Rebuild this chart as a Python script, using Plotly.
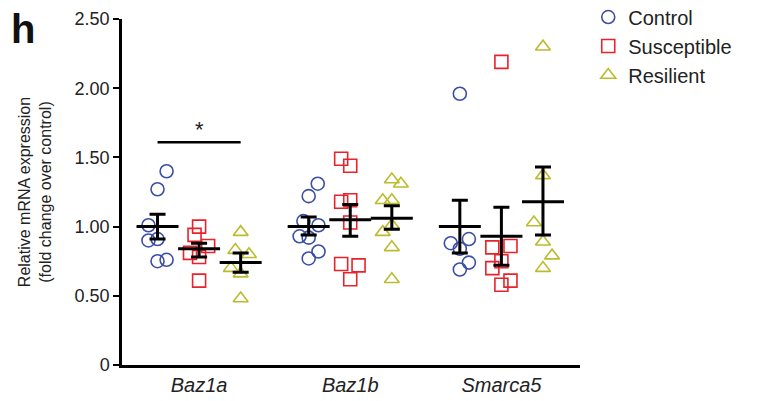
import plotly.graph_objects as go

genes = ["Baz1a", "Baz1b", "Smarca5"]
groups = ["Control", "Susceptible", "Resilient"]

# individual values per gene
control_values = [
    [1.40, 1.27, 1.01, 0.90, 0.91, 0.75, 0.76],
    [1.31, 1.22, 1.04, 1.01, 0.93, 0.92, 0.82, 0.77],
    [1.96, 0.88, 0.91, 0.84, 0.74, 0.69],
]
susceptible_values = [
    [1.00, 0.94, 0.86, 0.81, 0.78, 0.61],
    [1.49, 1.44, 1.18, 1.19, 1.03, 0.73, 0.72, 0.62],
    [2.19, 0.85, 0.86, 0.75, 0.70, 0.61, 0.58],
]
resilient_values = [
    [0.96, 0.83, 0.80, 0.70, 0.66, 0.48],
    [1.34, 1.31, 1.19, 1.19, 1.01, 0.96, 0.85, 0.62],
    [2.30, 1.37, 1.03, 0.89, 0.79, 0.70],
]

# mean and SEM bounds per gene
control_mean = [1.00, 1.00, 1.00]
control_upper = [1.09, 1.07, 1.19]
control_lower = [0.91, 0.94, 0.81]
susceptible_mean = [0.84, 1.05, 0.93]
susceptible_upper = [0.88, 1.16, 1.14]
susceptible_lower = [0.78, 0.93, 0.72]
resilient_mean = [0.74, 1.06, 1.18]
resilient_upper = [0.81, 1.15, 1.43]
resilient_lower = [0.67, 0.98, 0.94]

sig_y = 1.61
sig_label = "*"

# horizontal scatter (jitter) of points, in fractions of a category step
control_jitter = [
    [0.06, 0.0, -0.06, -0.06, 0.0, 0.0, 0.06],
    [0.06, 0.0, -0.035, 0.065, -0.06, 0.0, 0.065, 0.0],
    [0.0, -0.06, 0.06, 0.0, 0.06, 0.0],
]
susceptible_jitter = [
    [0.0, -0.03, 0.06, -0.06, 0.0, 0.0],
    [-0.06, 0.0, -0.06, 0.0, 0.0, -0.06, 0.055, 0.0],
    [0.0, -0.06, 0.06, 0.0, -0.06, 0.06, 0.0],
]
resilient_jitter = [
    [0.0, -0.035, 0.055, -0.065, 0.0, 0.0],
    [0.0, 0.06, -0.06, 0.0, 0.0, -0.06, 0.0, 0.0],
    [0.0, 0.0, -0.06, 0.0, 0.06, 0.0],
]

offsets = [-0.275, 0.0, 0.275]
colors = ["#3b4fa6", "#e8232b", "#bcbb2e"]
symbols = ["circle-open", "square-open", "triangle-up-open"]

values = [control_values, susceptible_values, resilient_values]
jitters = [control_jitter, susceptible_jitter, resilient_jitter]
means = [control_mean, susceptible_mean, resilient_mean]
uppers = [control_upper, susceptible_upper, resilient_upper]
lowers = [control_lower, susceptible_lower, resilient_lower]

fig = go.Figure()

for gi, name in enumerate(groups):
    xs, ys = [], []
    for ci in range(len(genes)):
        for v, j in zip(values[gi][ci], jitters[gi][ci]):
            xs.append(ci + offsets[gi] + j)
            ys.append(v)
    fig.add_trace(go.Scatter(
        x=xs, y=ys, mode="markers", name=name,
        marker=dict(symbol=symbols[gi], size=13, color=colors[gi],
                    line=dict(width=1.6, color=colors[gi])),
    ))

for gi in range(len(groups)):
    mx = [ci + offsets[gi] for ci in range(len(genes))]
    fig.add_trace(go.Scatter(
        x=mx, y=means[gi], mode="markers", showlegend=False,
        marker=dict(symbol="line-ew", size=30, color="black",
                    line=dict(width=3, color="black")),
        error_y=dict(type="data", symmetric=False,
                     array=[u - m for u, m in zip(uppers[gi], means[gi])],
                     arrayminus=[m - l for m, l in zip(means[gi], lowers[gi])],
                     color="black", thickness=3, width=8),
    ))

# significance bar Baz1a control vs resilient
fig.add_trace(go.Scatter(
    x=[0 + offsets[0], 0 + offsets[2]], y=[sig_y, sig_y], mode="lines",
    line=dict(color="black", width=2.5), showlegend=False, hoverinfo="skip",
))
fig.add_annotation(x=0, y=sig_y, text=sig_label, showarrow=False, yshift=13,
                   font=dict(size=22, color="#222", family="Liberation Sans"))

fig.add_annotation(x=0, y=1, xref="paper", yref="paper", xanchor="left", yanchor="top",
                   text="<b>h</b>", showarrow=False, xshift=-113, yshift=14,
                   font=dict(size=40, color="#111", family="Liberation Sans"))

fig.update_layout(
    width=772, height=393,
    margin=dict(l=114, r=200, t=11, b=36, autoexpand=False),
    paper_bgcolor="white", plot_bgcolor="white",
    font=dict(family="Liberation Sans", color="#222"),
    showlegend=True,
    legend=dict(x=1.018, y=1.062, xanchor="left", yanchor="top",
                font=dict(size=20, color="#222"), itemwidth=30,
                tracegroupgap=0, bgcolor="rgba(0,0,0,0)"),
    xaxis=dict(range=[-0.51, 2.52], tickvals=[0, 1, 2],
               ticktext=["<i>%s</i>" % g for g in genes],
               tickfont=dict(size=20, color="#222"), showgrid=False, zeroline=False,
               showline=True, linecolor="black", linewidth=2.5, ticks=""),
    yaxis=dict(range=[0, 2.5], tickvals=[0, 0.5, 1.0, 1.5, 2.0, 2.5],
               ticktext=["0", "0.50", "1.00", "1.50", "2.00", "2.50"],
               tickfont=dict(size=18, color="#222"), showgrid=False, zeroline=False,
               showline=True, linecolor="black", linewidth=2.5,
               ticks="outside", ticklen=6, tickwidth=2, tickcolor="black",
               title=dict(text="Relative mRNA expression<br>(fold change over control)",
                          font=dict(size=16, color="#222", family="Liberation Sans"),
                          standoff=20)),
)

fig.write_html("out.html")
